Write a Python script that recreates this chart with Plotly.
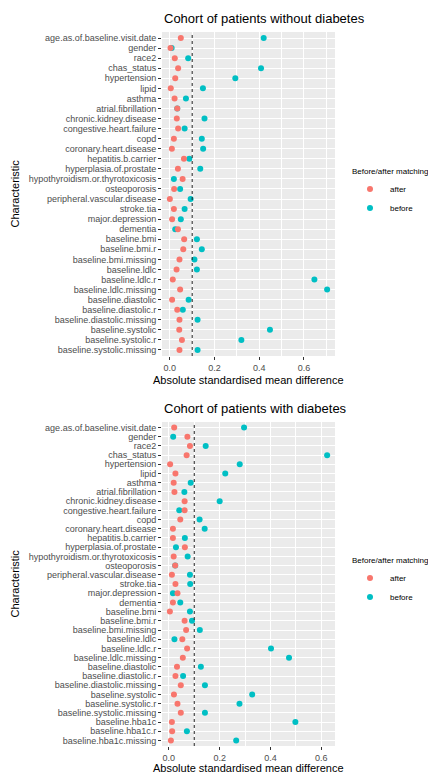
import plotly.graph_objects as go

# ---------------- data ----------------
cats_top = [
    "age.as.of.baseline.visit.date", "gender", "race2", "chas_status", "hypertension",
    "lipid", "asthma", "atrial.fibrillation", "chronic.kidney.disease",
    "congestive.heart.failure", "copd", "coronary.heart.disease", "hepatitis.b.carrier",
    "hyperplasia.of.prostate", "hypothyroidism.or.thyrotoxicosis", "osteoporosis",
    "peripheral.vascular.disease", "stroke.tia", "major.depression", "dementia",
    "baseline.bmi", "baseline.bmi.r", "baseline.bmi.missing", "baseline.ldlc",
    "baseline.ldlc.r", "baseline.ldlc.missing", "baseline.diastolic",
    "baseline.diastolic.r", "baseline.diastolic.missing", "baseline.systolic",
    "baseline.systolic.r", "baseline.systolic.missing",
]
after_top = [0.049, 0.003, 0.022, 0.037, 0.024, 0.004, 0.021, 0.033, 0.031, 0.037,
             0.018, 0.009, 0.063, 0.036, 0.057, 0.019, 0.000, 0.018, 0.010, 0.036,
             0.064, 0.060, 0.043, 0.030, 0.013, 0.046, 0.010, 0.033, 0.043, 0.042,
             0.054, 0.043]
before_top = [0.420, 0.008, 0.082, 0.408, 0.293, 0.148, 0.072, 0.033, 0.155, 0.066,
              0.143, 0.149, 0.087, 0.136, 0.018, 0.046, 0.093, 0.066, 0.049, 0.024,
              0.121, 0.143, 0.110, 0.121, 0.647, 0.704, 0.084, 0.058, 0.124, 0.448,
              0.320, 0.124]

cats_bot = cats_top + ["baseline.hba1c", "baseline.hba1c.r", "baseline.hba1c.missing"]
after_bot = [0.021, 0.073, 0.083, 0.070, 0.005, 0.026, 0.019, 0.022, 0.062, 0.062,
             0.045, 0.016, 0.016, 0.063, 0.019, 0.025, 0.012, 0.026, 0.034, 0.016,
             0.004, 0.062, 0.068, 0.053, 0.072, 0.055, 0.032, 0.026, 0.047, 0.020,
             0.034, 0.047, 0.012, 0.013, 0.008]
before_bot = [0.296, 0.017, 0.145, 0.623, 0.279, 0.222, 0.086, 0.061, 0.200, 0.041,
              0.121, 0.141, 0.063, 0.028, 0.074, 0.025, 0.083, 0.084, 0.016, 0.045,
              0.083, 0.091, 0.122, 0.022, 0.402, 0.473, 0.126, 0.056, 0.142, 0.328,
              0.278, 0.142, 0.498, 0.071, 0.265]

title_top = "Cohort of patients without diabetes"
title_bot = "Cohort of patients with diabetes"
x_title = "Absolute standardised mean difference"
y_title = "Characteristic"
legend_title = "Before/after matching"
threshold = 0.1
x_tickvals = [0.0, 0.2, 0.4, 0.6]
x_ticktext = ["0.0", "0.2", "0.4", "0.6"]

# ---------------- styling ----------------
OFF = 8                      # page body margin of the browser
W, H = 436 - OFF, 776 - OFF
FONT = "Liberation Sans, Arial, sans-serif"
COL_AFTER = "#F8766D"
COL_BEFORE = "#00BFC4"
PANEL_BG = "#EBEBEB"

def px_x(p):
    return (p - OFF) / W

def px_y(p):
    return 1 - (p - OFF) / H

xdom = [px_x(162), px_x(335)]
ydom_top = [px_y(356), px_y(32)]
ydom_bot = [px_y(746), px_y(422)]

def xrange(vals):
    lo, hi = min(vals), max(vals)
    pad = (hi - lo) * 0.05
    return [lo - pad, hi + pad]

fig = go.Figure()

def add_panel(cats, after, before, xa, ya, legend):
    fig.add_trace(go.Scatter(
        x=before, y=cats, mode="markers", name="before",
        marker=dict(color=COL_BEFORE, size=6),
        xaxis=xa, yaxis=ya, legend=legend, hoverinfo="x+y+name"))
    fig.add_trace(go.Scatter(
        x=after, y=cats, mode="markers", name="after",
        marker=dict(color=COL_AFTER, size=6),
        xaxis=xa, yaxis=ya, legend=legend, hoverinfo="x+y+name"))

add_panel(cats_top, after_top, before_top, "x", "y", "legend")
add_panel(cats_bot, after_bot, before_bot, "x2", "y2", "legend2")

def xaxis_cfg(vals, anchor):
    return dict(
        domain=xdom, anchor=anchor, range=xrange(vals),
        tickmode="array", tickvals=x_tickvals, ticktext=x_ticktext,
        showgrid=True, gridcolor="white", gridwidth=1.1,
        minor=dict(dtick=0.1, tick0=0.1, showgrid=True, gridcolor="white", gridwidth=0.5),
        zeroline=False, showline=False,
        ticks="outside", ticklen=3, tickcolor="#333333", tickwidth=1,
        tickfont=dict(family=FONT, size=9, color="#4D4D4D"),
        fixedrange=True,
    )

def yaxis_cfg(cats, dom, anchor):
    n = len(cats)
    return dict(
        domain=dom, anchor=anchor, type="category",
        categoryorder="array", categoryarray=cats,
        tickmode="array", tickvals=cats, ticktext=cats,
        range=[n - 0.4, -0.6],
        showgrid=True, gridcolor="white", gridwidth=1.1,
        zeroline=False, showline=False,
        ticks="outside", ticklen=3, tickcolor="#333333", tickwidth=1,
        tickfont=dict(family=FONT, size=9, color="#4D4D4D"),
        automargin=False, fixedrange=True,
    )

legend_common = dict(
    xanchor="left", yanchor="top",
    title=dict(text=legend_title, font=dict(family=FONT, size=8, color="black")),
    font=dict(family=FONT, size=8, color="black"),
    traceorder="reversed", bgcolor="rgba(0,0,0,0)",
)

fig.update_layout(
    width=W, height=H,
    margin=dict(l=0, r=0, t=0, b=0),
    paper_bgcolor="white",
    plot_bgcolor=PANEL_BG,
    font=dict(family=FONT, color="black"),
    xaxis=xaxis_cfg(before_top + after_top, "y"),
    yaxis=yaxis_cfg(cats_top, ydom_top, "x"),
    xaxis2=xaxis_cfg(before_bot + after_bot, "y2"),
    yaxis2=yaxis_cfg(cats_bot, ydom_bot, "x2"),
    legend=dict(x=px_x(350), y=px_y(164), **legend_common),
    legend2=dict(x=px_x(350), y=px_y(553), **legend_common),
    showlegend=True,
)

for xr, yr in (("x", "y domain"), ("x2", "y2 domain")):
    fig.add_shape(type="line", xref=xr, yref=yr, x0=threshold, x1=threshold, y0=0, y1=1,
                  line=dict(color="#222222", width=1, dash="dot"), layer="above")

for t, yp in ((title_top, 18), (title_bot, 408)):
    fig.add_annotation(text=t, xref="paper", yref="paper", x=px_x(162), y=px_y(yp),
                       xanchor="left", yanchor="middle", showarrow=False,
                       font=dict(family=FONT, size=13, color="black"))
for yp in (380, 768):
    fig.add_annotation(text=x_title, xref="paper", yref="paper", x=px_x(248.5), y=px_y(yp),
                       xanchor="center", yanchor="middle", showarrow=False,
                       font=dict(family=FONT, size=11, color="black"))
for yp in (194, 584):
    fig.add_annotation(text=y_title, xref="paper", yref="paper", x=px_x(14.5), y=px_y(yp),
                       xanchor="center", yanchor="middle", showarrow=False, textangle=-90,
                       font=dict(family=FONT, size=11, color="black"))

fig.write_html("out.html")
